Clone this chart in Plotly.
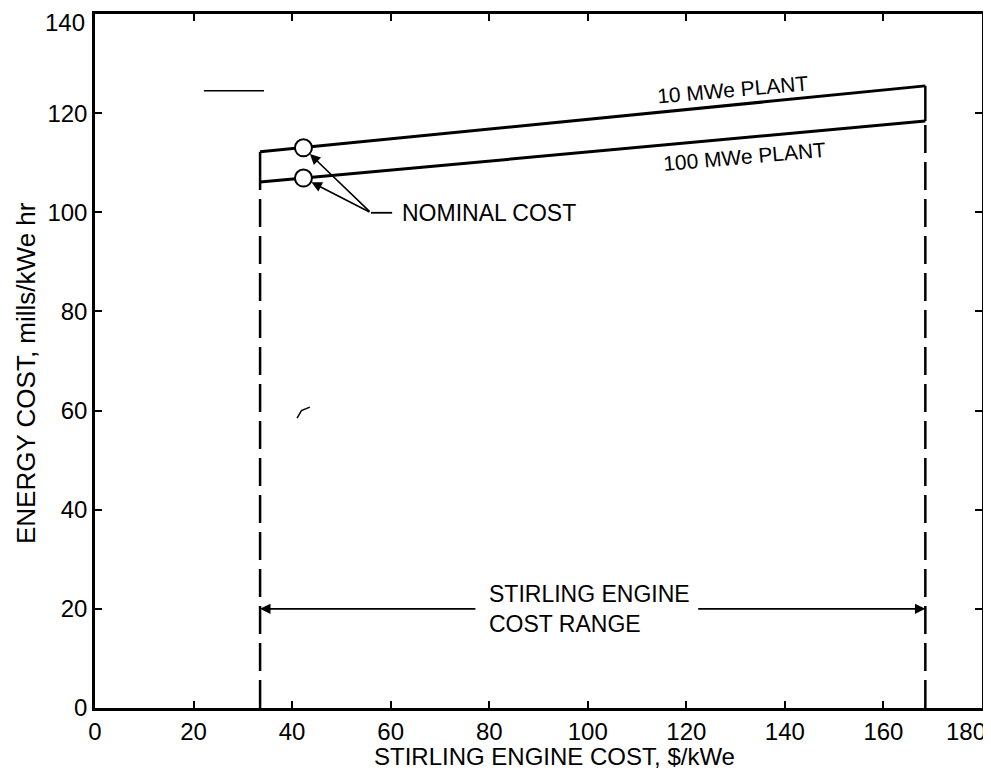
import plotly.graph_objects as go

# ---- data ----
engine_cost_range = [33.5, 168.5]          # $/kWe, ends of the cost range
plant_10_mwe = [112.2, 125.5]              # mills/kWe hr at range ends
plant_100_mwe = [106.1, 118.4]
nominal_cost_x = 42.3
nominal_10 = 113.0
nominal_100 = 106.9
range_arrow_y = 20
range_arrow_from = [77.5, 122.1]           # tails of the two range arrows
nominal_leader = [56.0, 99.9]              # vertex of NOMINAL COST leader
x_ticks = [0, 20, 40, 60, 80, 100, 120, 140, 160, 180]
x_tick_labels = ["0", "20", "40", "60", "80", "100", "120", "140", "160", "180"]
y_ticks = [0, 20, 40, 60, 80, 100, 120, 140]
y_tick_labels = ["0", "20", "40", "60", "80", "100", "120", "140"]
stray_line_x = [22.1, 34.3]
stray_line_y = 124.5
stray_mark_x = [41.0, 41.9, 43.6]
stray_mark_y = [58.5, 60.0, 60.7]

FONT = "Liberation Sans, Arial, sans-serif"
BLACK = "#000000"
DASH = "28px,9px"
TICK_SIZE = 24

fig = go.Figure()

# Dashed vertical boundaries of the cost range
for xv, ylo, yhi in [(engine_cost_range[0], plant_100_mwe[0], plant_10_mwe[0]),
                     (engine_cost_range[1], plant_100_mwe[1], plant_10_mwe[1])]:
    fig.add_trace(go.Scatter(x=[xv, xv], y=[0, ylo], mode="lines",
                             line=dict(color=BLACK, width=2.5, dash=DASH),
                             hoverinfo="skip", showlegend=False))
    fig.add_trace(go.Scatter(x=[xv, xv], y=[ylo, yhi], mode="lines",
                             line=dict(color=BLACK, width=2.5),
                             hoverinfo="skip", showlegend=False))

# Plant lines
fig.add_trace(go.Scatter(x=engine_cost_range, y=plant_10_mwe, mode="lines",
                         line=dict(color=BLACK, width=3), name="10 MWe PLANT",
                         showlegend=False))
fig.add_trace(go.Scatter(x=engine_cost_range, y=plant_100_mwe, mode="lines",
                         line=dict(color=BLACK, width=3), name="100 MWe PLANT",
                         showlegend=False))

# Nominal cost circles
fig.add_trace(go.Scatter(x=[nominal_cost_x, nominal_cost_x], y=[nominal_10, nominal_100],
                         mode="markers",
                         marker=dict(size=17, color="white", line=dict(color=BLACK, width=2)),
                         showlegend=False, name="NOMINAL COST"))

# stray scan marks
fig.add_trace(go.Scatter(x=stray_line_x, y=[stray_line_y, stray_line_y], mode="lines",
                         line=dict(color=BLACK, width=1.5), hoverinfo="skip",
                         showlegend=False))
fig.add_trace(go.Scatter(x=stray_mark_x, y=stray_mark_y, mode="lines",
                         line=dict(color=BLACK, width=1.5), hoverinfo="skip",
                         showlegend=False))

annotations = []
# NOMINAL COST leader arrows
for yv in (nominal_10, nominal_100):
    annotations.append(dict(x=nominal_cost_x, y=yv, ax=nominal_leader[0], ay=nominal_leader[1],
                            xref="x", yref="y", axref="x", ayref="y", text="",
                            showarrow=True, arrowhead=2, arrowsize=1.3, arrowwidth=1.6,
                            arrowcolor=BLACK, standoff=9))
fig.add_shape(type="line", x0=nominal_leader[0], y0=nominal_leader[1],
              x1=nominal_leader[0] + 4.3, y1=nominal_leader[1],
              line=dict(color=BLACK, width=1.8))
annotations.append(dict(x=nominal_leader[0] + 5.9, y=nominal_leader[1], xref="x", yref="y",
                        text="NOMINAL COST", showarrow=False, xanchor="left", yanchor="middle",
                        font=dict(family=FONT, size=23, color=BLACK)))

# Cost range arrows
annotations.append(dict(x=engine_cost_range[0], y=range_arrow_y, ax=range_arrow_from[0],
                        ay=range_arrow_y, xref="x", yref="y", axref="x", ayref="y", text="",
                        showarrow=True, arrowhead=2, arrowsize=1.3, arrowwidth=1.6,
                        arrowcolor=BLACK))
annotations.append(dict(x=engine_cost_range[1], y=range_arrow_y, ax=range_arrow_from[1],
                        ay=range_arrow_y, xref="x", yref="y", axref="x", ayref="y", text="",
                        showarrow=True, arrowhead=2, arrowsize=1.3, arrowwidth=1.6,
                        arrowcolor=BLACK))
annotations.append(dict(x=79.5, y=range_arrow_y, xref="x", yref="y",
                        text="STIRLING ENGINE<br>COST RANGE", showarrow=False,
                        xanchor="left", yanchor="middle", align="left",
                        font=dict(family=FONT, size=23, color=BLACK)))

# Plant labels
annotations.append(dict(x=129.4, y=124.7, xref="x", yref="y", text="10 MWe PLANT",
                        showarrow=False, textangle=-5,
                        font=dict(family=FONT, size=21, color=BLACK)))
annotations.append(dict(x=131.8, y=111.2, xref="x", yref="y", text="100 MWe PLANT",
                        showarrow=False, textangle=-5,
                        font=dict(family=FONT, size=21, color=BLACK)))

# Corner tick labels, nudged inward as in the reference so they stay on the page
annotations.append(dict(x=0, y=y_ticks[-1], xref="x", yref="y", text=y_tick_labels[-1],
                        showarrow=False, xanchor="right", yanchor="middle",
                        xshift=-8, yshift=-8,
                        font=dict(family=FONT, size=TICK_SIZE, color=BLACK)))
annotations.append(dict(x=x_ticks[-1], y=0, xref="x", yref="y", text=x_tick_labels[-1],
                        showarrow=False, xanchor="center", yanchor="top",
                        xshift=-16, yshift=-8,
                        font=dict(family=FONT, size=TICK_SIZE, color=BLACK)))

# Axis titles (placed as in the reference)
annotations.append(dict(x=0.5175, y=-0.0706, xref="paper", yref="paper",
                        text="STIRLING ENGINE COST, $/kWe", showarrow=False,
                        xanchor="center", yanchor="middle",
                        font=dict(family=FONT, size=24, color=BLACK)))
annotations.append(dict(x=-0.0778, y=0.4827, xref="paper", yref="paper",
                        text="ENERGY COST, mills/kWe hr", showarrow=False, textangle=-90,
                        xanchor="center", yanchor="middle",
                        font=dict(family=FONT, size=26, color=BLACK)))

# The page body has an 8px default margin, so the figure is sized to fit the window.
fig.update_layout(
    width=983, height=770,
    margin=dict(l=87, r=9, t=6, b=70),
    paper_bgcolor="white", plot_bgcolor="white",
    annotations=annotations,
    font=dict(family=FONT, color=BLACK),
)
fig.update_xaxes(range=[0, 180], tickvals=x_ticks,
                 ticktext=x_tick_labels[:-1] + [""],
                 ticks="inside", ticklen=7, tickwidth=2,
                 tickcolor=BLACK, showline=True, linecolor=BLACK, linewidth=2.5, mirror="ticks",
                 showgrid=False, zeroline=False, automargin=False,
                 tickfont=dict(family=FONT, size=TICK_SIZE, color=BLACK))
fig.update_yaxes(range=[0, 140], tickvals=y_ticks,
                 ticktext=y_tick_labels[:-1] + [""],
                 ticks="inside", ticklen=7, tickwidth=2,
                 tickcolor=BLACK, showline=True, linecolor=BLACK, linewidth=2.5, mirror="ticks",
                 showgrid=False, zeroline=False, automargin=False,
                 tickfont=dict(family=FONT, size=TICK_SIZE, color=BLACK))

fig.write_html("out.html")
